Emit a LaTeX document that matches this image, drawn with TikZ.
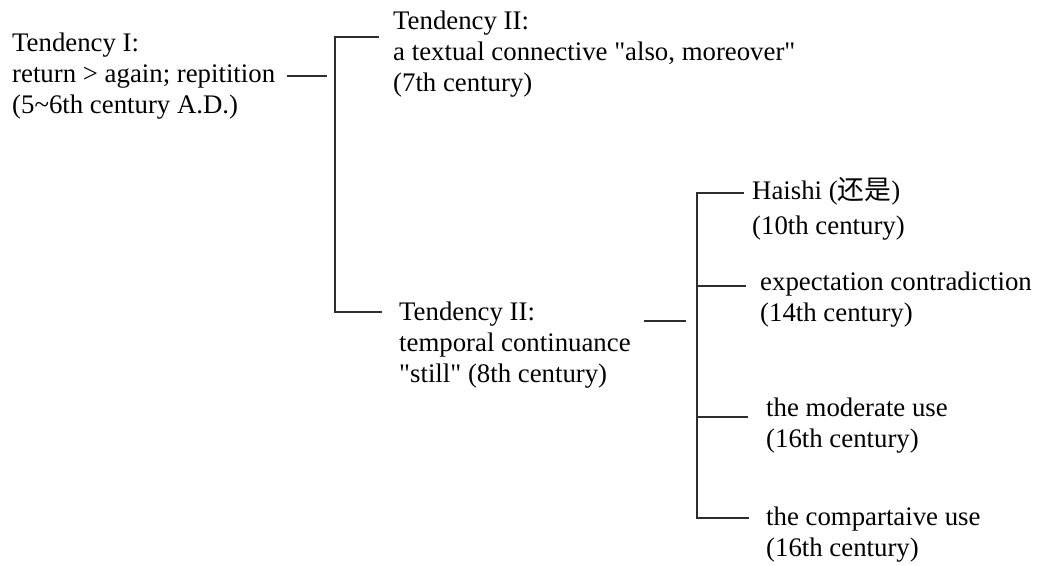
\documentclass[tikz,border=0pt]{standalone}
\usepackage{fontspec}
\setmainfont{Liberation Serif}[Ligatures=TeXOff]
\newfontfamily\cjk{Noto Sans CJK SC}
% left-aligned block whose baseline is that of its first line
\newcommand{\txtblock}[1]{\begin{tabular}[t]{@{}l@{}}#1\end{tabular}}
\begin{document}
\begin{tikzpicture}[x=1pt,y=-1pt,
  lbl/.style={anchor=base west, inner sep=0pt,
    font=\fontsize{26.8}{31}\selectfont},
  link/.style={line width=1.4pt, draw=black!82}]
\useasboundingbox (0,0) rectangle (1044,565);

% labels
\node[lbl] (t1) at (12,51)
  {\txtblock{Tendency I:\\return > again; repitition\\(5\textasciitilde 6th century A.D.)}};
\node[lbl] (t2) at (393,29)
  {\txtblock{Tendency II:\\a textual connective "also, moreover"\\(7th century)}};
\node[lbl] (t3) at (399,320)
  {\txtblock{Tendency II:\\temporal continuance\\"still" (8th century)}};
\node[lbl] (t4) at (752,199)
  {\txtblock{Haishi ({\cjk 还是})\\[4pt](10th century)}};
\node[lbl] (t5) at (760,290)
  {\txtblock{expectation contradiction\\(14th century)}};
\node[lbl] (t6) at (766,416)
  {\txtblock{the moderate use\\(16th century)}};
\node[lbl] (t7) at (766,525)
  {\txtblock{the compartaive use\\(16th century)}};

% first fork
\coordinate (f1in)  at (327,76);
\coordinate (f1top) at (335,37);
\coordinate (f1bot) at (335,312);
\draw[link] ([xshift=12pt]t1.east |- f1in) -- (f1in);
\draw[link] ([xshift=-14pt]t2.west |- f1top) -- (f1top) -- (f1bot)
  -- ([xshift=-17pt]t3.west |- f1bot);

% second fork
\coordinate (f2in) at (686,321);
\coordinate (f2a)  at (697,193);
\coordinate (f2b)  at (697,286);
\coordinate (f2c)  at (697,417);
\coordinate (f2d)  at (697,518);
\draw[link] ([xshift=13pt]t3.east |- f2in) -- (f2in);
\draw[link] ([xshift=-8pt]t4.west |- f2a) -- (f2a) -- (f2d)
  -- ([xshift=-17pt]t7.west |- f2d);
\draw[link] (f2b) -- ([xshift=-14pt]t5.west |- f2b);
\draw[link] (f2c) -- ([xshift=-18pt]t6.west |- f2c);
\end{tikzpicture}
\end{document}
